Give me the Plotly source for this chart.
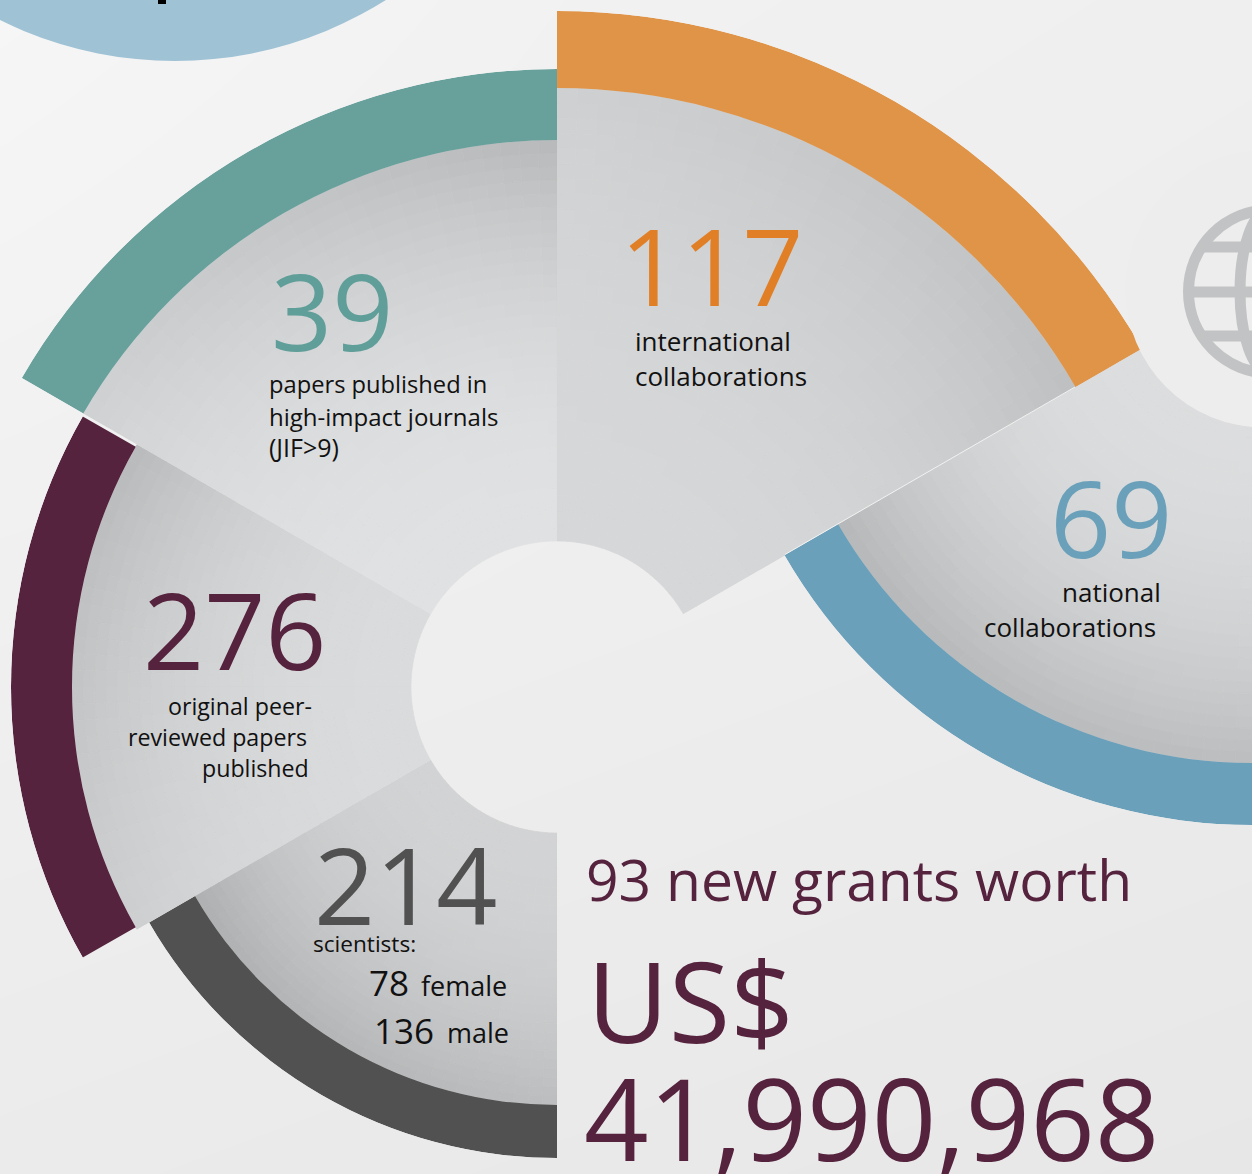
import numpy as np
import plotly.graph_objects as go

W, H = 1252, 1174

# --- data ---
segment_names = ["international", "papers", "peer_reviewed", "scientists", "national"]
segment_counts = [117, 39, 276, 214, 69]
band_colors = ["#e09448", "#68a19c", "#56233e", "#515151", "#6ba0ba"]
center_x = [557, 557, 557, 557, 1252]
center_y = [687, 687, 687, 687, 285]
sector_start = [30, 90, 150, 210, 210]
band_outer = [676, 618, 546, 471, 540]
band_inner = [599, 547, 485, 418, 478]
hub_radius = [146, 146, 146, 146, 130]
gray_light = [214, 224, 218, 210, 220]
arc_at_start = [190, 183, 184, 174, 182]
arc_at_end = [207, 208, 206, 188, 188]

TEXT_FONT = "Open Sans"
labels = [
    ("39", 271, 349, 107, "#5f9e99"),
    ("papers published in", 269, 391.5, 23.7, "#111111"),
    ("high-impact journals", 269, 423.5, 24, "#111111"),
    ("(JIF>9)", 269, 454.5, 25, "#111111"),
    ("117", 620, 304, 107, "#e07f26"),
    ("international", 635, 349.5, 26, "#111111"),
    ("collaborations", 635, 384.5, 26, "#111111"),
    ("69", 1050, 556, 107, "#6ba0ba"),
    ("national", 1062, 600, 26, "#111111"),
    ("collaborations", 984, 635, 26, "#111111"),
    ("276", 143, 668, 107, "#56233e"),
    ("original peer-", 168, 713.5, 23.2, "#111111"),
    ("reviewed papers", 128, 744.5, 23.2, "#111111"),
    ("published", 202, 775.5, 23.2, "#111111"),
    ("214", 314, 923, 107, "#515151"),
    ("scientists:", 313, 950.5, 22.6, "#111111"),
    ("78", 369, 993.5, 35, "#111111"),
    ("female", 421, 994.5, 27, "#111111"),
    ("136", 374, 1041.5, 35, "#111111"),
    ("male", 447, 1041.5, 27, "#111111"),
    ("93 new grants worth", 586, 899, 57, "#56233e"),
    ("US$", 587, 1041, 112, "#56233e"),
    ("41,990,968", 584, 1159, 113, "#56233e"),
]

bg_levels = [[246, 241, 239], [240, 238, 236], [235, 233, 231]]
bg_x = [0, 626, 1252]
bg_y = [0, 587, 1174]


def gray(v):
    v = int(round(v))
    return f"rgb({v},{v + 1},{v + 2})"


fig = go.Figure()
fig.add_trace(go.Heatmap(
    x=bg_x, y=bg_y, z=bg_levels, zsmooth="best", showscale=False, hoverinfo="skip",
    zmin=0, zmax=255, colorscale=[[0, "rgb(0,0,0)"], [1, "rgb(255,255,255)"]],
))

RINGS, CELLS = 30, 30
layout_polars = {}
for i, name in enumerate(segment_names):
    key = "polar" if i == 0 else f"polar{i + 1}"
    R = band_outer[i]
    s0 = sector_start[i]
    s1 = s0 + 60
    cx, cy = center_x[i], center_y[i]
    h, rin = hub_radius[i], band_inner[i]

    ring_edges = np.linspace(h, rin, RINGS + 1)
    cell_edges = np.linspace(s0, s1, CELLS + 1)
    r_mid = (ring_edges[:-1] + ring_edges[1:]) / 2
    th_mid = (cell_edges[:-1] + cell_edges[1:]) / 2
    th, rr = np.meshgrid(th_mid, r_mid)
    base = np.repeat(ring_edges[:-1], CELLS)
    u = (th.ravel() - s0) / 60
    t = ((rr.ravel() - h) / (rin - h)) ** 2.2
    arc = arc_at_start[i] * (1 - u) + arc_at_end[i] * u
    vals = gray_light[i] * (1 - t) + arc * t
    cols = [gray(v) for v in vals]
    fig.add_trace(go.Barpolar(
        subplot=key, theta=th.ravel(), base=base,
        r=np.full(base.shape, (rin - h) / RINGS), width=60 / CELLS,
        marker=dict(color=cols, line=dict(color=cols, width=0.7)),
        hoverinfo="skip", showlegend=False,
    ))
    gap = 0.3 if name == "peer_reviewed" else 0
    fig.add_trace(go.Barpolar(
        subplot=key, theta=[s0 + 30], base=[rin], r=[R - rin], width=60 - 2 * gap,
        marker=dict(color=band_colors[i], line=dict(width=0)),
        name=f"{name} ({segment_counts[i]})", hoverinfo="skip", showlegend=False,
    ))

    corners = [s0, s1] + ([180] if s0 < 180 < s1 else [])
    xs = R * np.cos(np.radians(corners))
    ys = R * np.sin(np.radians(corners))
    x0, x1 = cx + min(xs.min(), 0), cx + max(xs.max(), 0)
    y_top, y_bot = cy - max(ys.max(), 0), cy - min(ys.min(), 0)
    layout_polars[key] = dict(
        domain=dict(x=[x0 / W, x1 / W], y=[1 - y_bot / H, 1 - y_top / H]),
        sector=[s0, s1], bgcolor="rgba(0,0,0,0)", bargap=0,
        angularaxis=dict(visible=False, rotation=0, direction="counterclockwise", thetaunit="degrees"),
        radialaxis=dict(visible=False, range=[0, R], autorange=False),
    )

shapes = []
shapes.append(dict(type="circle", x0=175 - 395, x1=175 + 395, y0=61 - 790, y1=61,
                   fillcolor="#9fc2d5", line_width=0))
shapes.append(dict(type="rect", x0=158, x1=166, y0=0, y1=4, fillcolor="#000000", line_width=0))
shapes.append(dict(type="circle", x0=1264 - 138.5, x1=1264 + 138.5, y0=289 - 138.5, y1=289 + 138.5,
                   fillcolor="#eeeded", line_width=0))
# thin light seam between the international and national sectors
shapes.append(dict(type="line", x0=1075, y0=387, x1=785, y1=554.5,
                   line=dict(color="#f2f2f2", width=1)))
GLOBE = "#c2c3c4"
gx, gy = 1270, 291.5
shapes.append(dict(type="circle", x0=gx - 81.5, x1=gx + 81.5, y0=gy - 81.5, y1=gy + 81.5,
                   line=dict(color=GLOBE, width=11)))
shapes.append(dict(type="circle", x0=gx - 30, x1=gx + 30, y0=gy - 81.5, y1=gy + 81.5,
                   line=dict(color=GLOBE, width=11)))
for ly in (247, 292, 336):
    half = np.sqrt(81.5 ** 2 - (ly - gy) ** 2)
    shapes.append(dict(type="line", x0=gx - half, x1=gx + half, y0=ly, y1=ly,
                       line=dict(color=GLOBE, width=11)))

annotations = []
for text, x, base_y, size, color in labels:
    annotations.append(dict(
        text=text, x=x / W, y=1 - (base_y + 0.293 * size + 2) / H, xref="paper", yref="paper",
        xanchor="left", yanchor="bottom", showarrow=False, borderpad=0, borderwidth=0,
        font=dict(family=TEXT_FONT, size=size, color=color),
    ))

fig.update_layout(
    width=W, height=H, margin=dict(l=0, r=0, t=0, b=0, pad=0), showlegend=False,
    paper_bgcolor="#eeeeee", plot_bgcolor="#eeeeee",
    xaxis=dict(range=[0, W], visible=False, domain=[0, 1], fixedrange=True),
    yaxis=dict(range=[H, 0], visible=False, domain=[0, 1], fixedrange=True),
    shapes=shapes, annotations=annotations, **layout_polars,
)
fig.write_html("out.html", config=dict(displayModeBar=False),
               post_script="document.body.style.margin='0';document.body.style.overflow='hidden';")
